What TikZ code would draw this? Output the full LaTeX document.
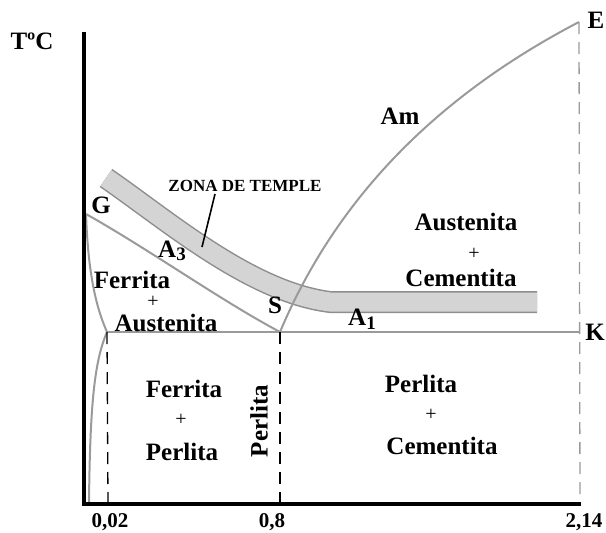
\documentclass[tikz,border=0pt]{standalone}
\usepackage{fontspec}
\setmainfont{Liberation Serif}
\definecolor{phasegray}{HTML}{9A9A9A}
\definecolor{bandfill}{HTML}{D4D4D4}
\definecolor{bandedge}{HTML}{8E8E8E}
\newcommand{\lowdigit}[1]{\raisebox{-3.5pt}{\fontsize{19}{19}\selectfont #1}}
\begin{document}
\begin{tikzpicture}[x=1pt,y=-1pt,
  lbl/.style={font=\bfseries\fontsize{25}{26}\selectfont, inner sep=0pt},
  plus/.style={font=\mdseries\fontsize{20}{20}\selectfont, inner sep=0pt},
  axlbl/.style={font=\bfseries\fontsize{21}{22}\selectfont, inner sep=0pt},
  zlbl/.style={font=\bfseries\fontsize{17}{18}\selectfont, inner sep=0pt},
  phase/.style={draw=phasegray, line width=2pt},
  axisline/.style={draw=black, line width=4pt},
  blackdash/.style={draw=black, line width=1.3pt, dash pattern=on 12pt off 8pt},
  graydash/.style={draw=phasegray, line width=1.3pt, dash pattern=on 12pt off 8pt}]
\useasboundingbox (0,0) rectangle (606,533);
% key points
\coordinate (Ytop) at (84,32);
\coordinate (O) at (84,504);
\coordinate (Xend) at (581,504);
\coordinate (Gp) at (86,214);
\coordinate (Sp) at (280,332);
\coordinate (Pp) at (107,332);
\coordinate (Kp) at (580,332);
\coordinate (Ep) at (579,22);
\coordinate (Qp) at (89,504);
\coordinate (x002) at (108,504);
\coordinate (x08) at (280,504);
\coordinate (x214) at (580,504);
\coordinate (bandA) at (106,178);
\coordinate (bandB) at (330,302);
\coordinate (bandC) at (537,302);
\coordinate (ptrA) at (215,194);
\coordinate (ptrB) at (202,247);
% quenching zone band
\draw[draw=bandedge, line width=22pt] (bandA) .. controls (167,220) and (250,292) .. (bandB) -- (bandC);
\draw[draw=bandfill, line width=19pt] (bandA) .. controls (167,220) and (250,292) .. (bandB) -- (bandC);
% phase lines
\draw[phase] (Gp) .. controls (150,250) and (220,300) .. (Sp);
\draw[phase] (Gp) .. controls (88,270) and (95,305) .. (Pp);
\draw[phase] (Pp) .. controls (95,360) and (90,400) .. (Qp);
\draw[phase] (Pp) -- (Kp);
\draw[phase] (Sp) .. controls (325,225) and (410,110) .. (Ep);
% dashed verticals
\draw[blackdash] (Pp) -- (x002);
\draw[blackdash] (Sp) -- (x08);
\draw[graydash] (Ep) -- (x214);
% axes
\draw[axisline] (Ytop) -- (O) -- (Xend);
% pointer
\draw[line width=1.6pt] (ptrA) -- (ptrB);
% labels
\node[lbl] (tc) at (32,41) {TºC};
\node[lbl] (G) at (101,205) {G};
\node[lbl] (A3) at (172,251) {A\lowdigit{3}};
\node[lbl] (S) at (275,305) {S};
\node[lbl] (A1) at (362,319) {A\lowdigit{1}};
\node[lbl] (K) at (595,332) {K};
\node[lbl] (E) at (596,20) {E};
\node[lbl] (Am) at (400,116) {Am};
\node[zlbl] (zona) at (245,186) {ZONA DE TEMPLE};
\node[lbl] (fa1) at (132,280) {Ferrita};
\node[plus] (fa2) at (153,301.5) {+};
\node[lbl] (fa3) at (166,323) {Austenita};
\node[lbl] (ac1) at (466,222) {Austenita};
\node[plus] (ac2) at (474,254) {+};
\node[lbl] (ac3) at (461,278) {Cementita};
\node[lbl] (fp1) at (184,389) {Ferrita};
\node[plus] (fp2) at (181,420) {+};
\node[lbl] (fp3) at (182,452) {Perlita};
\node[lbl, rotate=90] (perl) at (259,421) {Perlita};
\node[lbl] (pc1) at (421,384) {Perlita};
\node[plus] (pc2) at (431,415) {+};
\node[lbl] (pc3) at (442,446) {Cementita};
\node[axlbl] (l002) at (110,522) {0,02};
\node[axlbl] (l08) at (272,522) {0,8};
\node[axlbl] (l214) at (584,522) {2,14};
\end{tikzpicture}
\end{document}
